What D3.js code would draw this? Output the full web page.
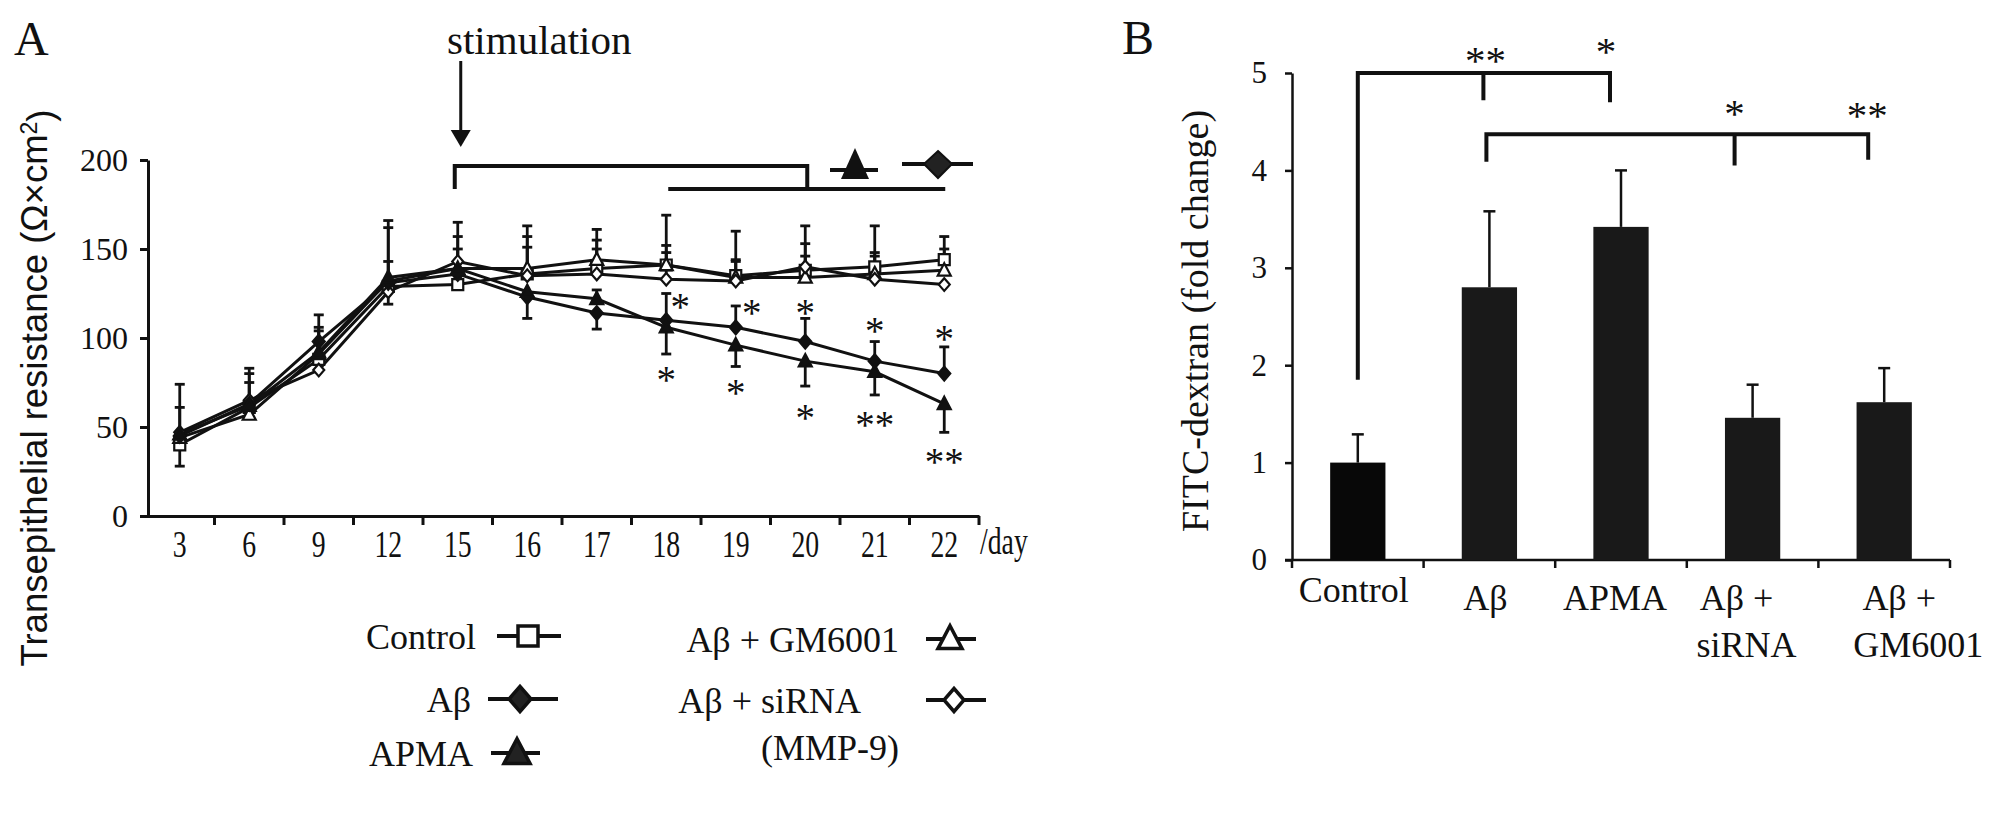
<!DOCTYPE html>
<html>
<head>
<meta charset="utf-8">
<script src="https://cdnjs.cloudflare.com/ajax/libs/d3/7.8.5/d3.min.js"></script>
<style>
  body { margin: 0; background: #fff; }
  svg { display: block; }
</style>
</head>
<body>
<svg id="fig" width="2001" height="816"></svg>
<script>
// ---------- panel A data: transepithelial resistance by day ----------
const days = ['3', '6', '9', '12', '15', '16', '17', '18', '19', '20', '21', '22'];
const teerTicks = [0, 50, 100, 150, 200];

const teerControl = [40, 61, 88, 129, 130, 136, 139, 141, 135, 138, 140, 144];
const teerAb      = [45, 63, 98, 131, 136, 123, 114, 110, 106, 98, 87, 80];
const teerApma    = [46, 62, 92, 134, 139, 126, 122, 106, 96, 87, 81, 63];
const teerGm      = [44, 57, 91, 132, 139, 139, 144, 141, 134, 134, 136, 138];
const teerSirna   = [47, 65, 82, 126, 143, 135, 136, 133, 132, 140, 133, 130];

// where each error bar ends (null = no bar drawn)
const errControl = [28, 83, 113, 166, 165, 163, 161, 169, 160, 163, 163, 157];
const errAb      = [61, null, null, null, null, 111, 105, 125, 118, 111, 98, 95];
const errApma    = [null, null, null, 143, null, null, 127, 91, 84, 73, 68, 47];
const errGm      = [74, 80, 106, 162, 157, 157, 155, 152, 144, 153, 148, 150];
const errSirna   = [null, 75, 104, 119, 150, 151, 150, 148, 143, 146, 146, null];

const starDays = ['18', '18', '19', '19', '20', '20', '21', '21', '22', '22'];
const starVals = [120, 79, 117, 72, 117, 58, 107, 54, 102, 33];
const starText = ['*', '*', '*', '*', '*', '*', '*', '**', '*', '**'];

// ---------- panel B data: FITC-dextran ----------
const groups = ['Control', 'Aβ', 'APMA', 'Aβ + siRNA', 'Aβ + GM6001'];
const groupLines = [['Control'], ['Aβ'], ['APMA'], ['Aβ +', 'siRNA'], ['Aβ +', 'GM6001']];
const fitc = [1.0, 2.8, 3.42, 1.46, 1.62];
const fitcErr = [1.29, 3.58, 4.0, 1.8, 1.97];
const fitcTicks = [0, 1, 2, 3, 4, 5];

const serif = '"Liberation Serif", "Times New Roman", serif';
const sans = '"Liberation Sans", Arial, sans-serif';
const ink = '#111';

const svg = d3.select('#fig');

function shape(type, r) {
  if (type === 'square') return `M${-r},${-r}h${2 * r}v${2 * r}h${-2 * r}Z`;
  if (type === 'diamond') return `M0,${-r * 1.15}L${r},0L0,${r * 1.15}L${-r},0Z`;
  return `M0,${-r * 1.1}L${r},${r * 0.8}L${-r},${r * 0.8}Z`;
}

const series = [
  { name: 'Control', values: teerControl, err: errControl, type: 'square', filled: false, r: 5.5 },
  { name: 'Aβ + GM6001', values: teerGm, err: errGm, type: 'triangle', filled: false, r: 6.5 },
  { name: 'Aβ + siRNA', values: teerSirna, err: errSirna, type: 'diamond', filled: false, r: 5.5 },
  { name: 'Aβ', values: teerAb, err: errAb, type: 'diamond', filled: true, r: 6 },
  { name: 'APMA', values: teerApma, err: errApma, type: 'triangle', filled: true, r: 6.5 }
];

// ================= panel A =================
const xA = d3.scaleBand().domain(days).range([145, 979]);
const yA = d3.scaleLinear().domain([0, 200]).range([516, 160]);
const cx = (d) => xA(d) + xA.bandwidth() / 2;
const gA = svg.append('g');

gA.append('g')
  .attr('transform', 'translate(148,0)')
  .call(d3.axisLeft(yA).tickValues(teerTicks).tickSize(8).tickSizeOuter(0).tickPadding(12))
  .call((g) => g.select('.domain').attr('stroke', ink).attr('stroke-width', 3))
  .call((g) => g.selectAll('.tick line').attr('stroke', ink).attr('stroke-width', 3))
  .call((g) => g.selectAll('text').attr('font-family', serif).attr('font-size', 32).attr('fill', ink));

gA.append('g')
  .attr('transform', 'translate(0,516)')
  .call(d3.axisBottom(xA).tickSize(0).tickSizeOuter(0))
  .call((g) => g.select('.domain').attr('stroke', ink).attr('stroke-width', 3))
  .call((g) => g.selectAll('text')
    .attr('y', 41).attr('dy', 0)
    .attr('font-family', serif).attr('font-size', 37).attr('fill', ink)
    .attr('transform', 'scale(0.75,1)'));

// boundary ticks between days
gA.append('g').selectAll('line').data(days).join('line')
  .attr('x1', (d) => xA(d) + xA.bandwidth())
  .attr('x2', (d) => xA(d) + xA.bandwidth())
  .attr('y1', 516).attr('y2', 525)
  .attr('stroke', ink).attr('stroke-width', 3);

gA.append('text')
  .attr('transform', 'translate(980,554) scale(0.75,1)')
  .attr('font-family', serif).attr('font-size', 37).attr('fill', ink)
  .text('/day');

const yTitle = gA.append('text')
  .attr('transform', 'translate(47,388) rotate(-90)')
  .attr('text-anchor', 'middle')
  .attr('font-family', sans).attr('font-size', 36.5).attr('fill', ink);
yTitle.append('tspan').text('Transepithelial resistance (Ω×cm');
yTitle.append('tspan').attr('dy', '-0.45em').attr('font-size', 23).text('2');
yTitle.append('tspan').attr('dy', '0.45em').text(')');

gA.append('text')
  .attr('x', 14).attr('y', 55)
  .attr('font-family', serif).attr('font-size', 48).attr('fill', ink)
  .text('A');

// stimulation arrow
gA.append('text')
  .attr('x', 447).attr('y', 54)
  .attr('font-family', serif).attr('font-size', 41).attr('fill', ink)
  .text('stimulation');
gA.append('line')
  .attr('x1', cx('15') + 3).attr('x2', cx('15') + 3)
  .attr('y1', 61).attr('y2', 135)
  .attr('stroke', ink).attr('stroke-width', 3);
gA.append('path')
  .attr('d', `M${cx('15') - 7},130L${cx('15') + 13},130L${cx('15') + 3},147Z`)
  .attr('fill', ink);

// significance bracket
gA.append('path')
  .attr('d', `M${cx('15') - 3},${yA(183.7)}V${yA(196.6)}H${cx('20') + 2}V${yA(183.7)}`
    + `M${cx('18') + 2},${yA(183.7)}H${cx('22') + 1}`)
  .attr('fill', 'none').attr('stroke', ink).attr('stroke-width', 4);
gA.append('line').attr('x1', 830).attr('x2', 878).attr('y1', 170).attr('y2', 170)
  .attr('stroke', ink).attr('stroke-width', 4);
gA.append('path').attr('d', 'M855,148L869,179L841,179Z').attr('fill', ink);
gA.append('line').attr('x1', 902).attr('x2', 973).attr('y1', 164).attr('y2', 164)
  .attr('stroke', ink).attr('stroke-width', 4);
gA.append('path').attr('d', 'M938,151L952,164L938,178L924,164Z')
  .attr('fill', '#222').attr('stroke', ink).attr('stroke-width', 2);

const line = d3.line().x((v, i) => cx(days[i])).y((v) => yA(v));

series.forEach((s) => {
  gA.append('path').datum(s.values)
    .attr('d', line)
    .attr('fill', 'none').attr('stroke', ink).attr('stroke-width', 3);
});

series.forEach((s) => {
  const pts = s.values.map((v, i) => ({ day: days[i], v, e: s.err[i] })).filter((p) => p.e !== null);
  const eg = gA.append('g').attr('stroke', ink).attr('stroke-width', 2.8);
  eg.selectAll('.stem').data(pts).join('line')
    .attr('x1', (p) => cx(p.day)).attr('x2', (p) => cx(p.day))
    .attr('y1', (p) => yA(p.v)).attr('y2', (p) => yA(p.e));
  eg.selectAll('.cap').data(pts).join('line')
    .attr('x1', (p) => cx(p.day) - 5).attr('x2', (p) => cx(p.day) + 5)
    .attr('y1', (p) => yA(p.e)).attr('y2', (p) => yA(p.e));
});

series.forEach((s) => {
  gA.append('g').selectAll('path').data(s.values).join('path')
    .attr('transform', (v, i) => `translate(${cx(days[i])},${yA(v)})`)
    .attr('d', shape(s.type, s.r))
    .attr('fill', s.filled ? ink : '#fff')
    .attr('stroke', ink).attr('stroke-width', 2.2);
});

gA.append('g').selectAll('text').data(starDays).join('text')
  .attr('x', (d, i) => cx(d) + (i === 0 ? 14 : i === 2 ? 16 : 0))
  .attr('y', (d, i) => yA(starVals[i]) + 18)
  .attr('text-anchor', 'middle')
  .attr('font-family', serif).attr('font-size', 39).attr('fill', ink)
  .text((d, i) => starText[i]);

// legend
const legendRows = [
  { s: 0, tx: 476, y: 636, mx: 528, x1: 497, x2: 561, r: 10 },
  { s: 3, tx: 471, y: 699, mx: 520, x1: 488, x2: 558, r: 11 },
  { s: 4, tx: 473, y: 753, mx: 517, x1: 491, x2: 540, r: 13 },
  { s: 1, tx: 899, y: 639, mx: 950, x1: 926, x2: 976, r: 12 },
  { s: 2, tx: 861, y: 700, mx: 954, x1: 926, x2: 986, r: 10 }
];
const lg = gA.append('g');
legendRows.forEach((row) => {
  const s = series[row.s];
  lg.append('text')
    .attr('x', row.tx).attr('y', row.y + 13)
    .attr('text-anchor', 'end')
    .attr('font-family', serif).attr('font-size', 36).attr('fill', ink)
    .text(s.name);
  lg.append('line').attr('x1', row.x1).attr('x2', row.x2).attr('y1', row.y).attr('y2', row.y)
    .attr('stroke', ink).attr('stroke-width', 4);
  lg.append('path')
    .attr('transform', `translate(${row.mx},${row.y})`)
    .attr('d', shape(s.type, row.r))
    .attr('fill', s.filled ? '#222' : '#fff')
    .attr('stroke', ink).attr('stroke-width', 3.5);
});
lg.append('text')
  .attr('x', 899).attr('y', 760)
  .attr('text-anchor', 'end')
  .attr('font-family', serif).attr('font-size', 36).attr('fill', ink)
  .text('(MMP-9)');

// ================= panel B =================
const xB = d3.scaleBand().domain(groups).range([1292, 1950]).paddingInner(0.58).paddingOuter(0.29);
const yB = d3.scaleLinear().domain([0, 5]).range([560, 73]);
const bx = (g) => xB(g) + xB.bandwidth() / 2;
const gB = svg.append('g');

gB.append('g')
  .attr('transform', 'translate(1292,0)')
  .call(d3.axisLeft(yB).tickValues(fitcTicks).tickFormat(d3.format('d')).tickSize(7).tickSizeOuter(0).tickPadding(18))
  .call((g) => g.select('.domain').attr('stroke', ink).attr('stroke-width', 2.5))
  .call((g) => g.selectAll('.tick line').attr('stroke', ink).attr('stroke-width', 2.5))
  .call((g) => g.selectAll('text').attr('font-family', serif).attr('font-size', 31).attr('fill', ink));

gB.append('line').attr('x1', 1285).attr('x2', 1950).attr('y1', 560).attr('y2', 560)
  .attr('stroke', ink).attr('stroke-width', 2.5);
gB.append('g').selectAll('line').data(groups.concat(['end'])).join('line')
  .attr('x1', (g, i) => 1292 + i * xB.step()).attr('x2', (g, i) => 1292 + i * xB.step())
  .attr('y1', 560).attr('y2', 568)
  .attr('stroke', ink).attr('stroke-width', 2.5);

gB.append('g').selectAll('rect').data(groups).join('rect')
  .attr('x', (g) => xB(g)).attr('width', xB.bandwidth())
  .attr('y', (g, i) => yB(fitc[i])).attr('height', (g, i) => yB(0) - yB(fitc[i]))
  .attr('fill', (g, i) => (i === 0 ? '#080808' : '#191919'));

const eb = gB.append('g').attr('stroke', ink).attr('stroke-width', 2.5);
eb.selectAll('.stem').data(groups).join('line')
  .attr('x1', bx).attr('x2', bx)
  .attr('y1', (g, i) => yB(fitc[i])).attr('y2', (g, i) => yB(fitcErr[i]));
eb.selectAll('.cap').data(groups).join('line')
  .attr('x1', (g) => bx(g) - 6).attr('x2', (g) => bx(g) + 6)
  .attr('y1', (g, i) => yB(fitcErr[i])).attr('y2', (g, i) => yB(fitcErr[i]));

// category labels, one or two lines
const labelShift = [[-4], [-4], [-6], [-16, -6], [15, 34]];
groupLines.forEach((lines, i) => {
  lines.forEach((t, j) => {
    gB.append('text')
      .attr('x', bx(groups[i]) + labelShift[i][j])
      .attr('y', (i === 0 ? 602 : 610) + j * 47)
      .attr('text-anchor', 'middle')
      .attr('font-family', serif).attr('font-size', 36).attr('fill', ink)
      .text(t);
  });
});

gB.append('text')
  .attr('transform', 'translate(1208,321) rotate(-90)')
  .attr('text-anchor', 'middle')
  .attr('font-family', serif).attr('font-size', 38).attr('fill', ink)
  .text('FITC-dextran (fold change)');

gB.append('text')
  .attr('x', 1122).attr('y', 54)
  .attr('font-family', serif).attr('font-size', 48).attr('fill', ink)
  .text('B');

// brackets
gB.append('path')
  .attr('d', `M${bx('Control')},${yB(1.85)}V${yB(5)}H${bx('APMA') - 11}V${yB(4.7)}`
    + `M${bx('Aβ') - 6},${yB(5)}V${yB(4.72)}`)
  .attr('fill', 'none').attr('stroke', ink).attr('stroke-width', 4);
gB.append('path')
  .attr('d', `M${bx('Aβ') - 3},${yB(4.09)}V${yB(4.37)}H${bx('Aβ + GM6001') - 16}V${yB(4.11)}`
    + `M${bx('Aβ + siRNA') - 18},${yB(4.37)}V${yB(4.05)}`)
  .attr('fill', 'none').attr('stroke', ink).attr('stroke-width', 4);

const bStars = [
  { x: bx('Aβ') - 4, v: 5.185, t: '**' },
  { x: bx('APMA') - 15, v: 5.28, t: '*' },
  { x: bx('Aβ + siRNA') - 18, v: 4.64, t: '*' },
  { x: bx('Aβ + GM6001') - 17, v: 4.62, t: '**' }
];
gB.append('g').selectAll('text').data(bStars).join('text')
  .attr('x', (d) => d.x).attr('y', (d) => yB(d.v) + 19)
  .attr('text-anchor', 'middle')
  .attr('font-family', serif).attr('font-size', 41).attr('fill', ink)
  .text((d) => d.t);
</script>
</body>
</html>
